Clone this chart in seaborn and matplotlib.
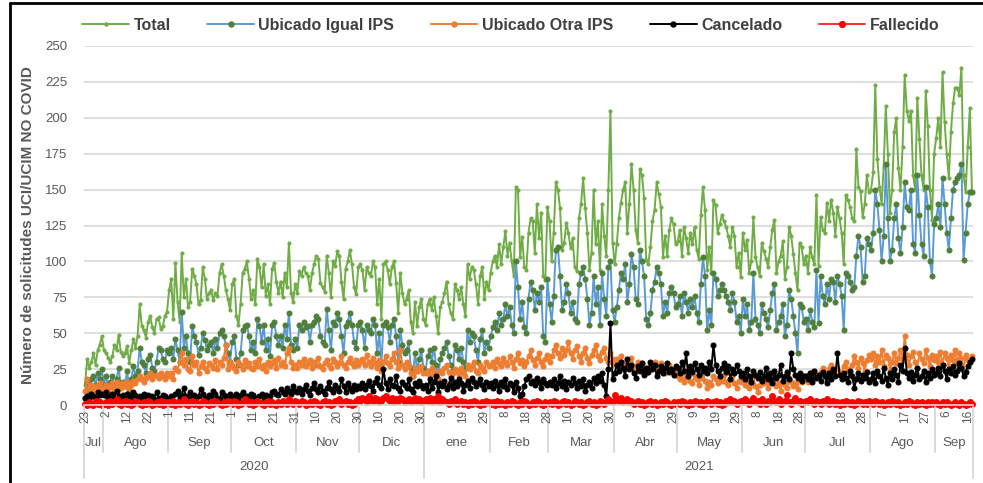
import numpy as np
import pandas as pd
import matplotlib
matplotlib.use("Agg")
import matplotlib.pyplot as plt
import matplotlib.transforms as mtransforms
from matplotlib.lines import Line2D
import seaborn as sns

# daily values, 23 Jul 2020 .. 18 Sep 2021, one inner list per month
start_date = "2020-07-23"

total = sum([
    [14, 32, 26, 30, 36, 28, 38, 42, 48],
    [38, 36, 33, 30, 34, 42, 38, 49, 37, 34, 36, 41, 29, 38, 46, 40, 48, 70, 55, 52, 47, 58, 62, 54, 50, 60, 61, 53, 55, 62, 65],
    [80, 88, 60, 99, 72, 58, 106, 75, 88, 68, 72, 95, 90, 84, 70, 73, 96, 88, 74, 78, 80, 73, 78, 76, 92, 98, 90, 80, 74, 66],
    [84, 88, 62, 56, 70, 92, 95, 100, 88, 74, 80, 70, 102, 96, 82, 98, 76, 84, 70, 95, 99, 86, 78, 86, 75, 92, 82, 113, 78, 72, 84],
    [78, 93, 90, 96, 92, 90, 80, 92, 98, 104, 102, 85, 82, 79, 104, 92, 75, 100, 97, 107, 104, 86, 74, 95, 100, 108, 98, 82, 77, 96],
    [98, 94, 80, 96, 92, 90, 100, 96, 70, 88, 60, 98, 100, 94, 84, 96, 100, 85, 64, 92, 78, 70, 74, 80, 58, 50, 72, 55, 68, 74, 60],
    [56, 70, 74, 66, 75, 62, 50, 68, 72, 78, 86, 70, 64, 60, 84, 80, 74, 82, 70, 62, 98, 88, 96, 94, 84, 70, 90, 96, 74, 86, 80],
    [92, 100, 104, 96, 112, 98, 110, 121, 104, 113, 100, 90, 152, 150, 103, 117, 96, 94, 120, 130, 128, 106, 140, 116, 134, 90, 87, 138],
    [128, 100, 120, 155, 150, 137, 108, 113, 127, 120, 109, 116, 96, 93, 130, 140, 158, 137, 120, 94, 106, 150, 112, 128, 94, 140, 118, 104, 150, 205, 113],
    [98, 112, 130, 141, 150, 155, 120, 140, 168, 150, 122, 113, 164, 160, 144, 101, 98, 110, 128, 136, 155, 147, 138, 103, 118, 104, 122, 130, 126, 112],
    [114, 122, 104, 124, 116, 106, 120, 112, 124, 108, 102, 132, 152, 136, 94, 110, 92, 143, 139, 120, 126, 132, 128, 124, 118, 110, 124, 118, 96, 106, 89],
    [120, 108, 115, 92, 100, 131, 103, 96, 90, 113, 107, 102, 96, 110, 122, 129, 92, 100, 104, 114, 88, 96, 124, 118, 105, 92, 80, 113, 110, 98],
    [104, 92, 110, 103, 98, 146, 97, 131, 122, 120, 141, 128, 143, 134, 118, 138, 130, 120, 98, 146, 143, 138, 130, 128, 178, 152, 149, 131, 140, 160, 148],
    [150, 162, 223, 171, 152, 140, 166, 208, 175, 134, 150, 190, 200, 165, 150, 180, 230, 205, 198, 205, 160, 150, 214, 185, 160, 150, 219, 194, 150, 129, 175],
    [186, 200, 180, 232, 197, 175, 158, 190, 210, 221, 221, 216, 235, 160, 148, 180, 207, 148],
], [])

igual_ips = sum([
    [5, 15, 10, 18, 20, 14, 22, 18, 25],
    [14, 20, 12, 16, 20, 12, 18, 26, 14, 16, 13, 24, 10, 18, 27, 20, 24, 40, 30, 28, 22, 32, 35, 26, 24, 30, 40, 38, 32, 30, 38],
    [36, 40, 32, 46, 38, 30, 65, 40, 48, 36, 30, 55, 48, 44, 35, 40, 50, 45, 38, 42, 44, 36, 46, 40, 50, 52, 48, 42, 36, 30],
    [44, 48, 32, 28, 36, 52, 55, 56, 48, 38, 44, 36, 60, 55, 44, 56, 38, 46, 34, 56, 58, 48, 42, 48, 40, 56, 46, 64, 42, 38, 46],
    [40, 56, 52, 58, 54, 55, 44, 56, 58, 62, 60, 48, 44, 42, 67, 52, 38, 58, 56, 64, 60, 48, 36, 55, 58, 64, 56, 44, 40, 56],
    [58, 52, 40, 56, 52, 50, 60, 56, 36, 50, 28, 56, 58, 54, 44, 56, 60, 48, 30, 52, 42, 36, 38, 44, 26, 20, 36, 24, 32, 38, 26],
    [24, 34, 38, 30, 40, 28, 18, 32, 36, 40, 44, 34, 28, 24, 42, 38, 32, 40, 30, 26, 52, 44, 50, 48, 38, 30, 46, 52, 36, 44, 40],
    [48, 54, 58, 52, 64, 56, 60, 70, 62, 68, 56, 50, 100, 82, 60, 72, 54, 50, 74, 86, 80, 66, 78, 72, 82, 48, 44, 88],
    [70, 58, 76, 108, 110, 90, 66, 72, 84, 78, 64, 72, 60, 58, 84, 92, 96, 88, 74, 56, 64, 90, 70, 82, 56, 92, 74, 62, 96, 100, 66],
    [58, 68, 80, 92, 88, 98, 72, 84, 105, 96, 74, 70, 108, 100, 90, 60, 56, 64, 80, 86, 96, 92, 84, 62, 72, 64, 78, 82, 78, 68],
    [70, 76, 62, 78, 72, 64, 74, 68, 76, 64, 58, 84, 103, 90, 52, 66, 56, 92, 88, 76, 80, 84, 80, 76, 72, 66, 78, 72, 58, 62, 50],
    [74, 62, 70, 52, 58, 92, 60, 56, 50, 70, 64, 60, 54, 66, 78, 84, 52, 58, 62, 70, 48, 56, 80, 74, 62, 50, 36, 70, 68, 58],
    [60, 52, 66, 58, 54, 94, 57, 90, 76, 70, 84, 74, 88, 86, 72, 90, 84, 76, 52, 92, 90, 86, 80, 82, 104, 118, 110, 86, 90, 116, 112],
    [108, 120, 150, 140, 122, 100, 118, 168, 130, 100, 108, 130, 140, 116, 106, 124, 155, 138, 136, 150, 112, 106, 160, 132, 112, 104, 152, 138, 100, 90, 126],
    [130, 140, 124, 158, 140, 120, 108, 130, 150, 155, 158, 160, 168, 101, 120, 140, 148, 148],
], [])

otra_ips = sum([
    [10, 18, 12, 14, 10, 13, 12, 15, 11],
    [12, 14, 10, 13, 15, 11, 16, 14, 12, 15, 13, 16, 12, 14, 17, 15, 18, 20, 18, 16, 19, 20, 22, 18, 20, 21, 19, 22, 20, 18, 22],
    [20, 22, 18, 26, 24, 30, 36, 28, 32, 25, 24, 34, 28, 30, 22, 27, 30, 26, 24, 29, 28, 26, 31, 25, 30, 28, 33, 42, 25, 30],
    [28, 26, 24, 30, 28, 25, 31, 27, 29, 26, 25, 30, 27, 32, 26, 28, 24, 30, 27, 29, 31, 26, 33, 28, 30, 27, 36, 40, 30, 26, 28],
    [26, 30, 28, 32, 27, 29, 31, 26, 30, 28, 33, 27, 25, 29, 31, 28, 26, 32, 30, 27, 29, 34, 28, 26, 30, 33, 29, 27, 31, 28],
    [30, 32, 28, 35, 30, 27, 33, 29, 26, 31, 24, 30, 34, 29, 27, 32, 36, 30, 26, 38, 28, 25, 30, 27, 22, 20, 26, 24, 25, 27, 22],
    [22, 24, 20, 26, 23, 21, 18, 24, 22, 26, 28, 23, 20, 22, 25, 24, 21, 26, 23, 20, 28, 25, 27, 30, 24, 22, 28, 26, 24, 30, 27],
    [28, 30, 26, 32, 29, 27, 33, 30, 28, 34, 30, 26, 32, 36, 29, 31, 27, 30, 34, 38, 31, 28, 33, 36, 30, 27, 32, 35],
    [30, 34, 38, 42, 36, 33, 40, 35, 38, 44, 36, 32, 38, 41, 34, 30, 36, 40, 33, 29, 35, 38, 42, 34, 31, 37, 40, 33, 30, 36, 32],
    [28, 32, 30, 34, 29, 26, 31, 28, 33, 27, 24, 30, 26, 29, 25, 22, 24, 28, 26, 30, 27, 25, 29, 24, 22, 26, 28, 24, 21, 25],
    [20, 18, 22, 16, 19, 21, 17, 15, 20, 18, 14, 19, 22, 17, 12, 16, 14, 20, 18, 15, 19, 17, 21, 16, 14, 18, 20, 15, 12, 17, 16],
    [18, 14, 16, 12, 15, 20, 13, 9, 14, 17, 15, 19, 12, 16, 21, 18, 13, 15, 10, 17, 14, 12, 19, 16, 13, 15, 11, 18, 16, 20],
    [20, 16, 22, 18, 24, 21, 19, 23, 26, 22, 20, 25, 28, 24, 21, 26, 23, 20, 27, 30, 25, 22, 28, 34, 30, 26, 33, 29, 24, 31, 35],
    [32, 36, 28, 34, 30, 38, 27, 35, 33, 24, 30, 36, 29, 33, 38, 31, 48, 35, 28, 34, 37, 30, 26, 36, 32, 29, 38, 33, 27, 35, 31],
    [34, 30, 37, 28, 36, 33, 25, 35, 31, 38, 29, 36, 33, 24, 35, 31, 30, 34],
], [])

cancelado = sum([
    [5, 6, 4, 8, 6, 5, 9, 7, 8],
    [7, 9, 5, 6, 8, 4, 10, 6, 5, 7, 3, 8, 6, 4, 9, 7, 5, 6, 4, 8, 3, 7, 5, 6, 4, 9, 5, 3, 7, 6, 4],
    [4, 6, 3, 8, 10, 5, 7, 12, 6, 4, 9, 5, 7, 3, 6, 11, 8, 5, 4, 7, 6, 10, 8, 5, 4, 9, 7, 5, 6, 8],
    [6, 5, 8, 4, 7, 9, 5, 6, 4, 8, 7, 5, 3, 6, 8, 5, 7, 4, 6, 9, 10, 8, 7, 11, 9, 8, 12, 10, 8, 13, 10],
    [9, 12, 8, 11, 14, 10, 7, 12, 15, 11, 9, 13, 10, 8, 12, 16, 11, 9, 14, 12, 10, 18, 13, 9, 15, 12, 10, 14, 11, 13],
    [12, 15, 11, 14, 17, 13, 10, 16, 19, 14, 12, 25, 15, 11, 18, 14, 13, 20, 12, 10, 16, 14, 12, 18, 11, 9, 15, 13, 17, 14, 12],
    [14, 10, 18, 12, 16, 20, 9, 15, 13, 17, 11, 14, 19, 12, 16, 13, 18, 15, 10, 14, 17, 12, 19, 16, 13, 15, 18, 14, 11, 16, 13],
    [15, 12, 17, 14, 10, 16, 13, 18, 11, 15, 14, 9, 16, 12, 6, 8, 13, 18, 20, 15, 17, 14, 19, 16, 12, 18, 15, 14],
    [16, 14, 18, 12, 15, 20, 13, 17, 11, 16, 14, 19, 15, 12, 17, 13, 18, 10, 14, 16, 12, 19, 15, 20, 17, 22, 14, 6, 25, 57, 18],
    [22, 28, 24, 30, 26, 20, 32, 25, 28, 22, 19, 27, 24, 29, 21, 26, 23, 30, 25, 28, 20, 24, 27, 22, 26, 29, 23, 25, 21, 27],
    [26, 22, 30, 24, 36, 20, 27, 23, 29, 25, 21, 28, 24, 26, 22, 30, 25, 42, 28, 24, 20, 26, 29, 23, 27, 18, 25, 22, 28, 24, 20],
    [22, 18, 25, 20, 16, 24, 21, 19, 23, 17, 20, 26, 18, 22, 15, 24, 19, 21, 28, 17, 20, 23, 18, 36, 25, 21, 19, 22, 17, 20],
    [20, 18, 22, 16, 24, 19, 21, 17, 23, 20, 15, 22, 18, 25, 20, 36, 21, 18, 22, 19, 16, 24, 20, 12, 18, 22, 17, 21, 19, 23, 16],
    [18, 22, 15, 24, 20, 17, 26, 19, 14, 22, 18, 25, 21, 16, 28, 24, 40, 22, 19, 23, 17, 21, 26, 18, 20, 24, 16, 22, 19, 25, 21],
    [22, 26, 20, 28, 24, 18, 25, 22, 27, 21, 24, 29, 26, 20, 23, 27, 30, 32],
], [])

fallecido = sum([
    [1, 0, 2, 1, 0, 3, 1, 2, 0],
    [1, 2, 0, 3, 1, 2, 4, 1, 0, 2, 3, 1, 2, 0, 1, 3, 2, 1, 0, 2, 1, 3, 2, 0, 1, 2, 1, 3, 0, 2, 1],
    [2, 1, 3, 0, 2, 1, 2, 4, 1, 0, 2, 3, 1, 2, 0, 1, 3, 2, 1, 0, 2, 1, 3, 2, 1, 0, 2, 1, 3, 2],
    [1, 3, 2, 0, 1, 2, 4, 3, 1, 2, 0, 1, 3, 2, 1, 0, 2, 3, 1, 2, 1, 0, 2, 1, 3, 2, 1, 4, 2, 1, 3],
    [2, 1, 3, 2, 0, 1, 2, 1, 3, 2, 1, 0, 2, 3, 1, 2, 0, 1, 3, 2, 4, 1, 2, 3, 1, 2, 0, 1, 3, 4],
    [3, 5, 4, 2, 6, 4, 3, 5, 4, 2, 3, 5, 6, 4, 3, 5, 2, 4, 3, 5, 4, 2, 3, 4, 2, 3, 5, 3, 4, 2, 3],
    [4, 3, 5, 2, 4, 3, 6, 2, 4, 3, 2, 1, 3, 2, 4, 1, 2, 3, 1, 2, 0, 2, 1, 3, 2, 1, 0, 2, 1, 3, 2],
    [1, 2, 0, 3, 1, 2, 1, 0, 2, 1, 3, 2, 1, 0, 2, 1, 3, 2, 0, 1, 2, 1, 3, 2, 1, 0, 2, 1],
    [2, 1, 3, 2, 0, 1, 2, 3, 1, 2, 0, 1, 3, 2, 1, 2, 0, 1, 2, 3, 1, 2, 0, 1, 3, 2, 1, 2, 4, 3, 2],
    [7, 4, 3, 5, 2, 3, 4, 2, 3, 1, 2, 3, 1, 2, 0, 1, 2, 3, 1, 2, 0, 1, 2, 1, 3, 2, 1, 0, 2, 1],
    [2, 1, 3, 2, 1, 0, 2, 1, 3, 2, 1, 2, 0, 1, 3, 2, 1, 2, 3, 1, 2, 0, 1, 3, 2, 4, 2, 3, 1, 2, 3],
    [2, 4, 3, 1, 2, 5, 2, 3, 1, 4, 2, 1, 3, 2, 6, 3, 2, 4, 1, 2, 3, 7, 2, 1, 3, 5, 2, 3, 1, 2],
    [3, 2, 4, 2, 1, 3, 2, 1, 3, 2, 4, 1, 2, 3, 1, 2, 0, 2, 1, 3, 2, 1, 2, 0, 1, 3, 2, 1, 2, 1, 3],
    [2, 1, 3, 2, 1, 2, 0, 1, 2, 1, 3, 2, 1, 2, 0, 1, 2, 1, 3, 2, 1, 0, 2, 1, 2, 1, 0, 2, 1, 2, 1],
    [2, 1, 0, 2, 1, 2, 1, 0, 1, 2, 1, 0, 2, 1, 0, 1, 2, 1],
], [])

series_names = ["Total", "Ubicado Igual IPS", "Ubicado Otra IPS", "Cancelado", "Fallecido"]
month_labels = ["Jul", "Ago", "Sep", "Oct", "Nov", "Dic", "ene", "Feb", "Mar",
                "Abr", "May", "Jun", "Jul", "Ago", "Sep"]
year_labels = ["2020", "2021"]
y_label = "Número de solicitudes UCI/UCIM NO COVID"

sns.set_theme(style="white")
plt.rcParams["font.family"] = ["Liberation Sans", "DejaVu Sans"]

gray = "#595959"
grid_c = "#D9D9D9"

styles = [
    dict(color="#70AD47", linewidth=1.4, marker="o", markersize=2.2,
         markerfacecolor="#70AD47", markeredgecolor="#70AD47"),
    dict(color="#5B9BD5", linewidth=1.4, marker="o", markersize=3.6,
         markerfacecolor="#4F7F3B", markeredgecolor="#4F7F3B"),
    dict(color="#ED7D31", linewidth=1.4, marker="o", markersize=3.6,
         markerfacecolor="#ED7D31", markeredgecolor="#ED7D31"),
    dict(color="black", linewidth=1.4, marker="o", markersize=3.6,
         markerfacecolor="black", markeredgecolor="black"),
    dict(color="#FF3030", linewidth=1.4, marker="o", markersize=4.2,
         markerfacecolor="#FF0000", markeredgecolor="#FF0000"),
]

fig = plt.figure(figsize=(9.83, 4.83), dpi=100)
ax = fig.add_axes([84 / 983, 78 / 483, 889 / 983, 359 / 483])

all_series = [total, igual_ips, otra_ips, cancelado, fallecido]
for vals, st in zip(all_series, styles):
    x = np.arange(len(vals))
    sns.lineplot(x=x, y=vals, ax=ax, errorbar=None, sort=False, legend=False,
                 clip_on=False, **st)

n = len(total)
ax.set_xlim(-0.5, n - 0.5)
ax.set_ylim(0, 250)
ax.set_yticks(np.arange(0, 251, 25))
ax.set_xticks([])
ax.yaxis.grid(True, color=grid_c, linewidth=1.2)
ax.set_axisbelow(True)
for s in ["top", "right", "left"]:
    ax.spines[s].set_visible(False)
ax.spines["bottom"].set_color(grid_c)
ax.spines["bottom"].set_linewidth(1.2)
ax.tick_params(axis="y", length=0, pad=12, labelsize=9.5, labelcolor=gray)
ax.set_ylabel(y_label, fontsize=11, fontweight="bold", color=gray, labelpad=7)

# multi-level category axis: day / month / year
trans = mtransforms.blended_transform_factory(ax.transData, ax.transAxes)
dates = pd.date_range(start_date, periods=n, freq="D")
for i in range(0, n, 10):
    ax.text(i, -0.014, str(dates[i].day), rotation=90, ha="center", va="top",
            transform=trans, fontsize=8.5, color=gray)

idx = pd.Series(np.arange(n), index=dates)
month_groups = idx.groupby([dates.year, dates.month]).agg(["min", "max"])
for (lo, hi), lab in zip(month_groups.values, month_labels):
    ax.text((lo + hi) / 2, -0.106, lab, ha="center", va="center",
            transform=trans, fontsize=9.5, color=gray)
    ax.plot([lo - 0.5, lo - 0.5], [-0.006, -0.131], transform=trans,
            color=grid_c, linewidth=1.4, clip_on=False)

year_groups = idx.groupby(dates.year).agg(["min", "max"])
for (lo, hi), lab in zip(year_groups.values, year_labels):
    ax.text((lo + hi) / 2, -0.173, lab, ha="center", va="center",
            transform=trans, fontsize=9.5, color=gray)
    ax.plot([lo - 0.5, lo - 0.5], [-0.006, -0.203], transform=trans,
            color=grid_c, linewidth=1.4, clip_on=False)
ax.plot([n - 0.5, n - 0.5], [-0.006, -0.203], transform=trans,
        color=grid_c, linewidth=1.4, clip_on=False)

handles = [Line2D([], [], **st) for st in styles]
fig.legend(handles, series_names, loc="center", bbox_to_anchor=(0.52, 0.948),
           ncol=5, frameon=False, handlelength=2.9, columnspacing=2.3,
           handletextpad=0.3, prop=dict(size=11.5, weight="bold"),
           labelcolor="#404040")

# outer frame of the original screenshot
fig.add_artist(Line2D([10 / 983, 10 / 983], [0, 1 - 3 / 483],
                      transform=fig.transFigure, color="black", linewidth=2))
fig.add_artist(Line2D([10 / 983, 1], [1 - 3 / 483, 1 - 3 / 483],
                      transform=fig.transFigure, color="black", linewidth=2))

fig.savefig("out.png", dpi=100, facecolor="white")
